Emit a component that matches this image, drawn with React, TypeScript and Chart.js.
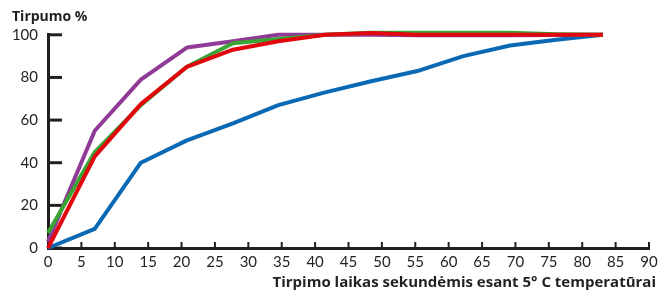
import React, { useEffect, useRef } from "react";
import { Chart, registerables } from "chart.js";

Chart.register(...registerables);

const timeSeconds = [0, 7, 13.9, 20.8, 27.7, 34.5, 41.5, 48.4, 55.3, 62.2, 69.2, 76.1, 83.1];
const blueValues = [0, 9, 40, 50.5, 58.5, 67, 73, 78.2, 83, 90, 95, 97.7, 100];
const greenValues = [7, 45, 67, 85, 96, 98, 100, 101, 101, 101, 101, 100.3, 100];
const redValues = [0, 43, 67.5, 85, 93, 97, 100, 100.8, 100, 100, 100, 100, 100];
const purpleValues = [3, 55, 79, 94, 97, 100, 100, 100, 99.8, 99.8, 99.8, 99.9, 100];

const yTitle = "Tirpumo %";
const xTitle = "Tirpimo laikas sekundėmis esant 5° C temperatūrai";

const AXIS = "#231f20";
const FONT = "Lato, 'Open Sans', sans-serif";
const TITLE_FONT = "'Open Sans', Lato, sans-serif";

const toPoints = (vals: number[]) => vals.map((v, i) => ({ x: timeSeconds[i], y: v }));

const innerTicks = {
  id: "innerTicks",
  beforeDatasetsDraw(chart: any) {
    const { ctx } = chart;
    const x = chart.scales.x;
    const y = chart.scales.y;
    ctx.save();
    ctx.strokeStyle = AXIS;
    ctx.lineWidth = 3;
    y.ticks.forEach((t: any) => {
      const py = y.getPixelForValue(t.value);
      ctx.beginPath();
      ctx.moveTo(x.left, py);
      ctx.lineTo(x.left + 14, py);
      ctx.stroke();
    });
    ctx.lineWidth = 2;
    x.ticks.forEach((t: any) => {
      if (t.value === 0) return;
      const px = x.getPixelForValue(t.value);
      ctx.beginPath();
      ctx.moveTo(px, y.bottom);
      ctx.lineTo(px, y.bottom - 6);
      ctx.stroke();
    });
    ctx.restore();
  },
  afterDraw(chart: any) {
    const { ctx } = chart;
    ctx.save();
    ctx.fillStyle = AXIS;
    ctx.font = `bold 15px ${TITLE_FONT}`;
    ctx.textAlign = "right";
    ctx.textBaseline = "alphabetic";
    ctx.fillText(xTitle, chart.width - 14, chart.height - 6);
    ctx.restore();
  },
};

export default function App() {
  const ref = useRef<HTMLCanvasElement | null>(null);
  useEffect(() => {
    if (!ref.current) return;
    const mk = (label: string, vals: number[], color: string) => ({
      label,
      data: toPoints(vals),
      borderColor: color,
      backgroundColor: color,
      borderWidth: 4,
      pointRadius: 0,
      tension: 0,
      clip: false as any,
      borderJoinStyle: "round" as const,
    });
    const chart = new Chart(ref.current, {
      type: "line",
      data: {
        datasets: [
          mk("red", redValues, "#e2060f"),
          mk("green", greenValues, "#3aa535"),
          mk("purple", purpleValues, "#8e3a96"),
          mk("blue", blueValues, "#0a69b4"),
        ],
      },
      options: {
        animation: false,
        responsive: false,
        layout: { padding: { left: 12, right: 21, top: 0, bottom: 0 } },
        plugins: {
          legend: { display: false },
          tooltip: { enabled: false },
          title: {
            display: true,
            text: yTitle,
            align: "start",
            color: AXIS,
            font: { family: TITLE_FONT, size: 14, weight: "bold" },
            padding: { top: 9, bottom: 9 },
          },
        },
        scales: {
          x: {
            type: "linear",
            min: 0,
            max: 90,
            grid: { display: false, drawTicks: false },
            border: { display: true, color: AXIS, width: 3 },
            ticks: {
              stepSize: 5,
              color: AXIS,
              padding: 5,
              maxRotation: 0,
              autoSkip: false,
              font: { family: FONT, size: 15 },
            },
            afterFit: (s: any) => {
              s.height = 45;
            },
          },
          y: {
            min: 0,
            max: 100,
            grid: { display: false, drawTicks: false },
            border: { display: true, color: AXIS, width: 3 },
            ticks: {
              stepSize: 20,
              color: AXIS,
              padding: 10,
              font: { family: FONT, size: 15 },
            },
            afterFit: (s: any) => {
              s.width = 36;
            },
          },
        },
      },
      plugins: [innerTicks],
    });
    return () => chart.destroy();
  }, []);
  return (
    <div style={{ position: "fixed", left: 0, top: 0, width: 670, height: 293 }}>
      <canvas ref={ref} width={670} height={293} />
    </div>
  );
}
